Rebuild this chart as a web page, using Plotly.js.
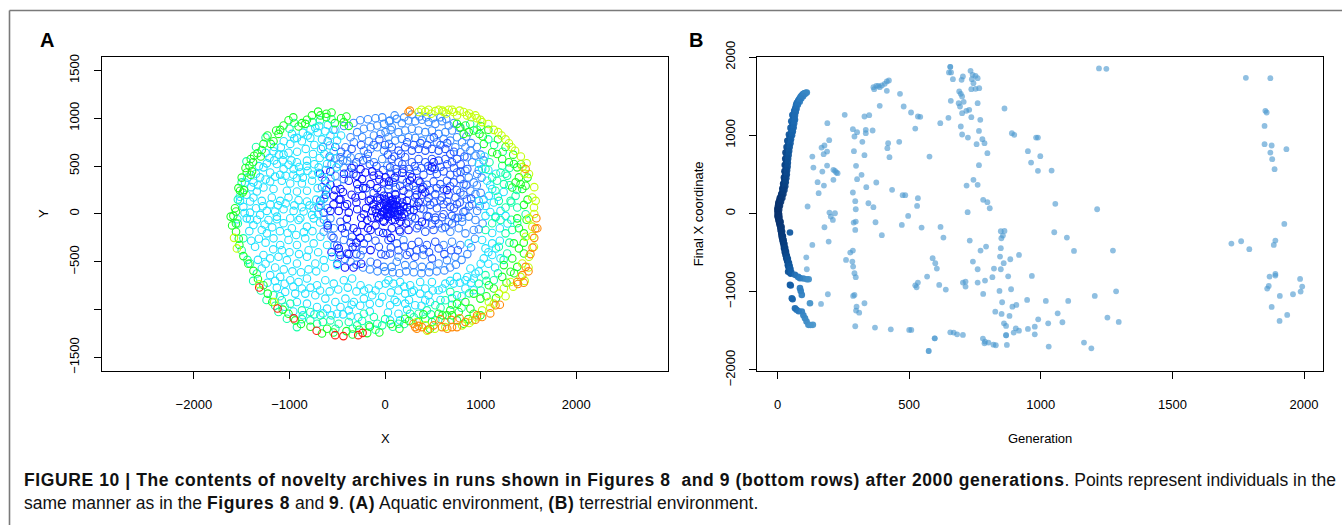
<!DOCTYPE html>
<html>
<head>
<meta charset="utf-8">
<script src="https://cdn.plot.ly/plotly-3.0.1.min.js"></script>
<style>
  html, body { margin: 0; padding: 0; background: #fff; }
  #fig { width: 1342px; height: 525px; }
</style>
</head>
<body>
<div id="fig"></div>
<script>
// ---------- Panel A: final positions (X, Y) of archived individuals, grouped by colour band ----------
const deepBlue = [
  [-572,445],[-625,347],[-572,305],[-467,260],[-380,347],[-292,312],[-240,364],[-152,312],[-82,270],[-12,329],
  [-537,190],[-467,151],[-397,102],[-310,172],[-240,190],[-170,137],[-82,172],[-12,190],[58,137],[-572,32],
  [-485,32],[-380,14],[-292,49],[-222,-3],[-135,32],[-47,67],[23,14],[-205,434],[-135,445],[-65,410],[5,382],[-257,469],
  [35,67],[87,102],[52,-3],[140,-3],[350,347],[385,260],[280,382],[227,137],[192,242],[507,540],[490,487],[420,224],
  [0,154],[350,119],[647,249],
  [-292,-186],[-240,-116],[-187,-63],[-82,-28],[-12,-81],[-152,-168],[-152,-378],[-485,-360],[-467,-430],
  [35,-28],[105,-63],[175,-28],[385,-81],[70,-150],[245,-168],
  [0,50],[30,80],[60,30],[90,60],[-30,20],[20,-20],[50,110],[100,20],[-60,80],[120,90],[10,140],[-90,10],[70,-60],
  [150,40],[-20,-70],[40,180],[130,-30],[-120,100],[180,120],[-50,160],[200,0],[80,150],[-10,100],[160,-80],[110,200],
  [230,70],[-140,-40],[60,0],[25,45],[95,95],[-681,422],[-340,-345],
  [-40,-10],[15,90],[45,60],[80,120],[-80,140],[110,-10],[140,70],[-60,-40],[170,30],[-100,50],[70,90],[30,0],
  [-10,30],[120,150],[190,80],[-150,150],[-200,60],[-250,-40],[-300,120],[-350,200],[-420,80],[-480,150],[-540,100],
  [-520,250],[-430,420],[-350,480],[-300,400],[-230,270],[-180,-150],[-260,-250],[-330,-150],[-400,-50],[-450,-150],
  [-380,-420],[-300,-300],[-100,-120],[-20,-200],[60,-250],[150,-170],[220,-100],[300,40],[330,200],[260,350],
  [180,430],[100,380],[40,340],[-60,360],[-120,400],[-440,230],[-620,200],[-600,-120],[-560,-400],[-500,-520],
  [-420,-560],[-330,-560],[-250,-520]
];
const royalBlue = [
  [70,697],[140,662],[210,697],[280,662],[350,680],[420,662],[490,680],[560,662],[630,680],[682,627],[752,575],[700,540],
  [630,575],[560,557],[490,575],[420,540],[350,575],[280,540],[210,592],[140,540],[70,575],[52,487],[122,434],[192,469],
  [262,417],[332,452],[402,410],[472,452],[542,417],[612,445],[682,410],[752,434],[787,364],[717,330],[647,347],[577,312],
  [507,340],[437,305],[367,330],[297,295],[227,330],[157,295],[87,330],[35,260],[105,207],[175,172],[245,214],[315,172],
  [385,200],[455,165],[525,207],[595,172],[665,200],[735,172],[752,102],[682,74],[612,102],[542,60],[472,95],[402,49],
  [332,84],[262,39],[192,74],[122,32],[612,-3],[525,-38],[700,-20],[437,-20],
  [-467,-81],[-397,-133],[-345,-238],[-65,-186],[23,-203],[-310,-343],[-222,-308],[-65,-343],[5,-430],[-82,-518],[-397,-413],
  [245,-81],[315,-46],[455,-28],[525,-63],[595,-35],[157,-186],[332,-150],[420,-186],[507,-168],[35,-273],[122,-308],
  [280,-325],[350,-290],[437,-325],[525,-290],[52,-413],[227,-430],[315,-448],[490,-465],
  [-695,67],[-677,137],[-642,14],
  [-580,600],[-520,700],[-460,650],[-350,680],[-300,540],[-250,720],[-180,630],[-120,720],[-60,780],[0,720],[30,620],
  [95,600],[165,630],[230,750],[300,720],[370,740],[440,720],[510,800],[580,720],[650,740],[720,650],[790,520],
  [830,600],[860,470],[790,440],[720,480],[650,520],[580,490],[520,470],[450,500],[380,480],[310,500],[250,470],
  [180,520],[110,470],[60,420],[-20,460],[-90,500],[-160,520],[-230,560],[-330,420],[-280,260],[-200,270],[-120,220],
  [-40,240],[40,300],[110,280],[180,360],[250,280],[320,250],[400,280],[470,250],[540,270],[610,260],[680,290],
  [750,250],[820,200],[780,120],[720,60],[650,130],[580,140],[510,120],[440,130],[370,60],[300,120],[230,20],
  [280,-30],[350,-120],[420,-100],[490,-110],[560,-100],[630,-140],[700,-100],[760,-40],[820,20],[880,80],[900,160],
  [850,300],[-420,-200],[-360,-300],[-300,-420],[-230,-380],[-180,-250],[-100,-280],[-40,-420],[60,-350],[140,-380],
  [200,-340],[260,-400],[330,-380],[400,-370],[460,-400],[560,-360],[620,-420],[690,-380],[760,-380],[-540,-250],[-500,-330]
];
const azure = [
  [-467,592],[-397,627],[-415,697],[-327,750],[-362,802],[-292,855],[-222,890],[-152,907],[-82,925],[-12,942],[41,970],
  [-240,802],[-170,760],[-117,820],[-47,837],[5,855],[58,879],[-485,522],[-432,480],[-380,434],[-432,364],[-502,319],
  [-397,557],[-327,504],[-275,592],[-222,662],[-152,680],[-82,697],[-12,662],[41,732],[-187,575],[-117,540],[-30,575],[23,504],
  [52,977],[122,994],[175,949],[245,977],[315,970],[385,984],[455,960],[525,942],[595,970],[665,925],[700,872],[630,855],
  [560,837],[490,872],[420,855],[350,872],[280,890],[210,872],[140,855],[70,907],[752,802],[805,750],[840,697],[892,662],
  [945,610],[910,540],[857,592],[787,645],[735,697],[682,767],[612,785],[542,750],[472,785],[385,767],[315,795],[245,802],
  [175,785],[105,767],[35,802],[962,417],[927,330],[892,242],[857,154],[910,102],[962,32],[840,32],[805,-38],[875,382],
  [840,452],[822,312],[787,224],[945,207],
  [-607,-98],[-537,-150],[-642,-186],[-572,-46],[-432,-273],[-257,-430],[-152,-500],[-12,-553],
  [665,-81],[735,-46],[805,-81],[875,-28],[945,-63],[595,-150],[682,-186],[770,-150],[840,-203],[927,-168],[192,-273],
  [612,-325],[700,-290],[787,-325],[140,-448],[402,-430],[560,-518],[647,-483],[735,-448],[210,-535],[297,-535],
  [385,-553],[472,-546],[70,-553],[122,-500],
  [-650,700],[-600,760],[-540,880],[-430,920],[-330,950],[-260,980],[-180,990],[-100,1000],[-30,1010],[100,1030],
  [200,1010],[280,1040],[360,1020],[430,1010],[500,1000],[580,1010],[640,990],[720,950],[780,900],[850,810],[900,740],
  [960,700],[1000,620],[1030,560],[980,460],[1010,380],[960,300],[1000,220],[1030,150],[990,80],[1020,-100],[980,-160],
  [940,-260],[900,-350],[860,-420],[800,-480],[740,-530],[680,-560],[620,-590],[540,-600],[460,-610],[380,-620],
  [300,-610],[220,-600],[150,-620],[80,-610],[0,-600],[-80,-600],[-160,-580],[-230,-560],[-300,-530],[-360,-500],
  [-420,-470],[-480,-400],[-530,-330],[-560,-230],[-600,-150],[-640,-60],[-600,60],[-640,160],[-620,250],[-660,280],
  [-520,400],[-560,520],[-620,460],[-520,580],[-440,560],[-360,590]
];
const cyan = [
  [-974,837],[-922,795],[-810,820],[-730,900],[-705,851],[-782,795],[-870,760],[-992,732],[-1090,697],[-1167,655],
  [-1062,620],[-1209,585],[-1237,529],[-1132,522],[-1010,515],[-922,540],[-817,557],[-754,627],[-670,680],[-579,715],
  [-502,767],[-460,820],[-572,820],[-625,865],[-635,627],[-684,585],[-810,452],[-887,434],[-957,469],[-1062,469],
  [-1097,410],[-1202,434],[-1272,487],[-1307,382],[-1202,340],[-1080,347],[-992,319],[-922,375],[-870,319],[-764,347],
  [-705,270],[-817,242],[-922,235],[-1027,242],[-1167,260],[-1272,277],[-1342,235],[-1377,172],[-1290,137],[-1185,172],
  [-1097,137],[-1010,172],[-905,144],[-817,130],[-747,60],[-852,25],[-957,32],[-1062,49],[-1150,25],[-1237,32],
  [-1307,-10],[-1412,14],[-1482,74],[-1517,137],[-1412,130],[-1377,329],[-1465,329],[-660,382],[-695,487],[-607,522],
  [-572,585],[-537,655],[-509,487],[-572,375],[-607,270],[-635,172],[-677,95],[-764,-10],[-887,-45],[-992,-45],
  [-1132,-55],[-1412,-55],[-1545,-55],
  [980,522],[1015,470],[1067,347],[1120,260],[1085,189],[1137,119],[1050,84],[980,137],[1207,32],[1155,-38],[1050,-20],
  [-1447,-46],[-1377,-116],[-1290,-168],[-1220,-63],[-1132,-28],[-1062,-98],[-975,-150],[-905,-63],[-817,-133],[-747,-46],
  [-1237,-203],[-1167,-255],[-1097,-325],[-1010,-273],[-922,-325],[-835,-255],[-747,-308],[-677,-238],[-607,-325],
  [-1360,-343],[-1272,-430],[-1202,-465],[-1115,-448],[-1027,-483],[-922,-518],[-817,-448],[-730,-518],[-642,-483],
  [-555,-448],[-502,-535],[-1290,-570],[-1202,-640],[-1097,-658],[-992,-693],[-905,-711],[-817,-675],[-712,-745],
  [-625,-693],[-537,-728],[-432,-693],[-345,-675],[-257,-745],[-170,-780],[-65,-745],[5,-728],[-1132,-770],[-1045,-815],
  [-940,-833],[-835,-833],[-730,-850],[-625,-885],[-520,-920],[-415,-885],[-327,-920],[-222,-885],[-135,-850],[-30,-868],
  [-467,-973],[-380,-1008],[-922,-920],[-817,-938],[-712,-973],[-607,-990],[-502,-1043],
  [35,-693],[87,-728],[157,-711],[262,-745],[367,-711],[490,-711],[630,-728],[717,-728],[752,-658],[840,-693],[927,-675],
  [1032,-465],[1120,-430],[1207,-465],[1015,-273],[1120,-308],[1050,-360],[892,-570],[945,-623],[840,-780],[927,-798],
  [210,-833],[280,-815],[367,-833],[455,-850],[560,-798],[122,-920],[210,-938],[315,-955],[420,-903],[52,-955],
  [140,-1043],[52,-1113],[157,-1113],[875,-308],
  [-1450,200],[-1400,280],[-1330,300],[-1250,360],[-1150,390],[-1040,400],[-960,410],[-860,380],[-760,410],[-700,430],
  [-740,520],[-820,500],[-900,490],[-980,560],[-1070,560],[-1160,560],[-1250,640],[-1160,700],[-1060,760],[-950,790],
  [-860,850],[-780,880],[-690,920],[-600,930],[-520,880],[-660,780],[-740,720],[-830,680],[-920,650],[-1010,640],
  [-1110,620],[-1320,500],[-1350,420],[-1440,380],[-1520,180],[-1470,10],[-1350,60],[-1280,80],[-1200,100],[-1120,90],
  [-1040,110],[-950,90],[-870,70],[-790,90],[-720,150],[-700,0],[-680,-90],[-760,-180],[-850,-190],[-930,-220],
  [-1020,-200],[-1100,-180],[-1180,-140],[-1260,-110],[-1340,-60],[-1420,-180],[-1400,-280],[-1320,-260],[-1250,-300],
  [-1170,-370],[-1080,-380],[-1000,-400],[-900,-420],[-800,-380],[-700,-400],[-630,-560],[-720,-600],[-800,-580],
  [-880,-610],[-970,-600],[-1060,-580],[-1150,-560],[-1250,-520],[-1330,-480],[-1230,-720],[-1150,-700],[-1050,-730],
  [-960,-760],[-870,-780],[-780,-770],[-680,-800],[-580,-810],[-490,-790],[-390,-770],[-300,-810],[-220,-800],[-100,-800],
  [-60,-930],[-160,-940],[-260,-960],[-350,-950],[-440,-1050],[-560,-1060],[-650,-1040],[-740,-1050],[-860,-1060],
  [-960,-1020],[-1050,-970],[-1100,-860],[-280,-1080],[-360,-1070],[-160,-1020],[60,-820],[140,-800],[200,-760],
  [300,-800],[420,-780],[500,-800],[600,-780],[680,-700],[780,-720],[860,-660],[900,-720],[980,-600],[1000,-520],
  [1080,-520],[1150,-560],[1080,-400],[1160,-360],[1200,-280],[1120,-200],[1200,-150],[1260,-20],[1280,-100],[1100,20],
  [1180,180],[1240,230],[1100,300],[1160,420],[1080,460],[1040,600],[100,-900],[250,-900],[380,-960],[470,-920],
  [580,-900],[700,-880],[800,-860],[30,-1030],[230,-1000]
];
const springGreen = [
  [1120,382],[1207,434],[1277,400],[1242,312],[1172,347],[1225,504],[1092,540],[1050,470],[1365,189],[1312,137],
  [1382,67],[1470,-3],[1260,67],[1190,137],[1155,242],
  [-1482,-255],[-1412,-518],[-1342,-623],[-1167,-850],[-1080,-903],[-992,-938],[-870,-1008],[-782,-1025],[-677,-1060],
  [-572,-1113],[-485,-1148],[-380,-1130],[-292,-1165],[-170,-1165],[-82,-1148],[-30,-1165],[-117,-1078],[-222,-1043],
  [-782,-1113],[-712,-1148],[-922,-1183],[-1027,-1095],[-1115,-1025],
  [1155,-28],[1120,-98],[1207,-63],[1050,-168],[1260,-203],[1330,-168],[1382,-98],[1190,-343],[1277,-413],[1050,-640],
  [1137,-693],[980,-728],[682,-815],[752,-850],[630,-903],[525,-955],[437,-1008],[350,-1043],[262,-1043],[420,-1095],
  [525,-1113],[630,-1130],[140,-1148],
  [-1540,-100],[-1500,-380],[-1440,-480],[-1380,-700],[-1300,-800],[-1240,-900],[-1150,-960],[-870,-1100],[-650,-1130],
  [-520,-1200],[-340,-1200],[-240,-1120],[-100,-1210],[0,-1100],[80,-1180],[200,-1150],[300,-1080],[480,-1050],
  [580,-980],[700,-950],[800,-980],[880,-830],[1000,-800],[1060,-700],[1180,-620],[1240,-480],[1300,-300],[1320,-60],
  [1320,120],[1300,300],[1260,420],[1300,480],[1230,650],[1140,720],[1080,780],[960,880],[890,940],[1380,250],
  [-1450,550],[-1350,700],[-1250,800],[-1000,890],[-950,950],[-760,960],[-680,980],[-560,990],[-1500,330],[-1540,150]
];
const green = [
  [-765,1030],[-677,1030],[-614,1047],[-617,1012],[-404,1019],[-432,960],[-380,921],[-526,949],[-870,949],[-905,914],
  [-835,942],[-817,984],[-1062,925],[-1097,879],[-1139,872],[-1115,837],[-1167,760],[-1195,732],[-1272,732],[-1290,669],
  [-1335,634],[-1370,609],[-1405,574],[-1419,504],[-1447,434],[-1405,410],[-1391,445],[-1534,270],[-1517,242],[-1489,224],
  [-1475,249],[-1570,60],[-1559,25],[-1587,-20],
  [752,942],[787,907],[840,925],[822,837],[875,855],[927,872],[987,837],[1022,809],[1032,732],[1120,645],[1172,627],
  [1225,575],[1295,540],[1347,522],[1382,487],[1400,382],[1365,330],[1417,312],[1435,260],[1470,295],[1330,277],[1452,95],
  [-1559,-186],[-1524,-325],[-1482,-441],[-1377,-595],[-1272,-745],[-1227,-833],[-1010,-1043],[-940,-1113],[-607,-1200],
  [-404,-1225],[-271,-1211],[-187,-1246],[-1615,-28],
  [1382,-46],[1400,-150],[1452,-203],[1347,-308],[1400,-360],[1452,-413],[1330,-465],[1242,-535],[1312,-605],[1382,-553],
  [1225,-658],[1085,-745],[1137,-780],[927,-833],[997,-885],[752,-938],[840,-920],[892,-990],[682,-1008],[770,-1025],
  [927,-1043],[560,-1043],[647,-1060],[490,-1130],[752,-1113],[822,-1148],[350,-1130],[997,-1060],[210,-1095],
  [-1560,-100],[-1530,-260],[-1600,-120],[-1430,-520],[-1330,-680],[-1180,-920],[-1070,-1000],[-880,-1150],[-780,-1180],
  [-660,-1250],[-540,-1240],[-340,-1260],[-160,-1180],[-60,-1240],[60,-1150],[150,-1200],[250,-1120],[400,-1050],
  [470,-1200],[600,-1060],[700,-1060],[870,-1100],[1060,-860],[1160,-880],[1270,-720],[1350,-620],[1450,-300],
  [1480,-60],[1490,150],[1490,380],[1420,520],[1340,620],[1260,700],[1180,780],[1080,880],[1000,920],[-1500,380],
  [-1460,480],[-1380,540],[-1300,600],[-1230,820],[-1010,980],[-960,1010],[-700,1070],[-560,1060],[-460,1000]
];
const yellowGreen = [
  [350,1065],[455,1089],[483,1047],[525,1075],[560,1089],[612,1065],[665,1089],[717,1065],[752,1030],[822,1065],
  [857,1030],[903,1012],[945,1030],[997,984],[1015,960],[1137,879],[1183,855],[1218,820],[1295,739],[1323,697],
  [1505,417],[1540,172],[1575,137],[1557,67],[1437,491],[1458,421],
  [-1160,-920],[-1314,-735],
  [1505,-46],[1540,-133],[1470,-238],[1557,-343],[1505,-448],[1435,-518],[1417,-658],[1312,-711],[1242,-780],[1190,-833],
  [1085,-920],[1137,-938],[1015,-1008],[332,-1130],[420,-1165],[630,-1183],[910,-1113],[805,-1165],
  [380,1090],[420,1070],[600,1080],[640,1050],[700,1090],[780,1080],[880,1050],[960,1000],[1080,940],[1260,780],
  [1360,660],[1420,600],[1480,530],[1560,280],[1560,0],[1540,-230],[1500,-560],[1460,-700],[1340,-760],[1260,-860],
  [1100,-980],[960,-1080],[880,-1140],[520,-1200],[440,-1220],[-1580,-250],[-1550,-360]
];
const orange = [
  [245,1065],[1470,470],[1582,-45],[1572,-153],[1542,-352],[1592,-150],[1470,-553],[1435,-640],[1382,-711],[1390,-732],
  [1155,-955],[945,-1106],[840,-1130],[752,-1183],[700,-1183],[595,-1183],[507,-1165],[385,-1183],[315,-1183],[297,-1148],
  [332,-1200],[962,-1060],[1015,-1078],[780,-1090],[692,-1107],[579,-1100],
  [260,1080],[1500,-600],[1520,-420],[1450,-720],[1200,-950],[1100,-1040],[650,-1200],[450,-1210],[350,-1170],[1560,-250]
];
const red = [
  [-1316,-769],[-1125,-988],[-956,-1092],[-716,-1221],[-522,-1267],[-436,-1277],[-281,-1267],[-235,-1243]
];

// ---------- Panel B: generation vs final X coordinate ----------
// the first run, which sweeps outwards from the start during the early generations
const earlyRun = [
  [111,1547],[104,1542],[98,1531],[92,1510],[85,1476],[80,1450],[73,1412],[70,1380],[66,1326],[64,1290],[60,1240],
  [62,1200],[58,1156],[57,1110],[54,1070],[52,1030],[47,985],[45,945],[41,900],[40,860],[37,815],[36,770],[35,729],
  [34,690],[32,644],[33,600],[31,559],[30,515],[28,473],[27,430],[25,389],[23,345],[20,303],[17,260],[12,217],[9,175],
  [3,133],[2,90],[0,47],[1,10],
  [95,1520],[78,1440],[68,1350],[56,1260],[52,1180],[49,1095],[43,1010],[37,930],[34,850],[30,780],[29,700],[27,620],
  [26,540],[24,460],[21,380],[18,320],[14,250],[8,195],[5,150],[2,105],[0,60],
  [108,1545],[101,1535],[88,1495],[83,1465],[76,1425],[71,1395],[67,1340],[63,1310],[61,1270],[59,1215],[60,1180],
  [56,1130],[55,1090],[53,1050],[50,1010],[46,965],[43,925],[42,880],[39,840],[38,795],[35,750],[34,710],[33,665],
  [31,620],[32,580],[30,535],[29,495],[27,450],[26,410],[24,365],[22,325],[19,280],[15,240],[11,200],[7,160],[4,120],
  [1,75],[0,25],
  [104,1530],[97,1500],[90,1470],[84,1430],[77,1390],[72,1340],[69,1300],[66,1250],[66,1200],[63,1150],[61,1100],
  [58,1050],[55,1000],[51,950],[49,900],[46,850],[44,800],[42,750],[40,700],[39,650],[38,600],[36,550],[35,500],
  [33,450],[31,400],[29,350],[26,300],[22,250],[18,200],[13,150],[9,100],[6,50],[5,0],
  [0,-38],[3,-80],[7,-123],[10,-165],[12,-208],[14,-250],[16,-294],[19,-335],[22,-379],[25,-420],[28,-464],[31,-505],
  [35,-550],[38,-590],[41,-634],[43,-675],[45,-720],[48,-760],
  [4,-60],[9,-140],[13,-230],[17,-310],[20,-360],[24,-440],[27,-490],[30,-530],[33,-570],[37,-610],[39,-660],[44,-700],
  [40,-745],[47,-243],
  [0,-15],[2,-50],[5,-100],[8,-145],[11,-185],[13,-220],[15,-270],[18,-315],[21,-355],[23,-400],[26,-445],[29,-480],
  [32,-520],[34,-560],[36,-600],[40,-645],[42,-690],[46,-730],[50,-770],[14,-190],[18,-280],[10,-100],[6,-20],
  [7,-50],[11,-110],[15,-170],[17,-230],[20,-290],[23,-340],[26,-390],[29,-440],[32,-490],[35,-540],[39,-580],
  [43,-630],[46,-670],[49,-710],[52,-750],
  [66,-784],[78,-810],[85,-826],[98,-830],[111,-839],[118,-840],[47,-912],[50,-920],[85,-954],[88,-990],[92,-1040],
  [54,-1082],[57,-1095],[123,-1146],[66,-1210],[72,-1230],[80,-1250],[92,-1253],[98,-1300],[104,-1338],[110,-1380],
  [117,-1423],[125,-1425],[134,-1423]
];
// all later archive entries
const laterRuns = [
  [132,729],[136,588],[114,90],[132,-401],[109,-559],[111,-712],
  [167,844],[178,870],[189,1156],[196,938],[188,793],[175,759],[170,537],[188,614],[152,401],[156,260],[176,358],
  [212,559],[218,546],[228,516],[212,431],[223,525],[197,13],[202,-38],[210,-81],[218,4],[178,-175],[194,-358],
  [165,-1155],[191,-1032],[255,1262],
  [286,1079],[302,1040],[292,985],[322,917],[330,1241],[348,1258],[335,1070],[335,1028],[361,1062],[290,797],[330,746],
  [388,1377],[298,610],[319,495],[302,439],[286,269],[337,337],[375,397],[295,158],[297,55],[364,81],[345,132],
  [289,-115],[297,-102],[295,-209],[372,-111],[396,-277],[260,-593],[276,-499],[286,-473],[284,-614],[287,-678],
  [292,-763],[297,-814],[287,-1053],[292,-1040],[300,-1190],[298,-1241],[310,-1267],[330,-1147],[295,-1441],
  [370,-1458],[430,-1480],[417,836],[420,900],[425,721],[415,1569],
  [367,1590],[375,1633],[383,1633],[396,1637],[407,1659],[415,1689],[423,1701],[388,1616],[364,1616],
  [465,1531],[479,1369],[507,1292],[533,1241],[542,1237],[523,1087],[462,917],[577,729],[435,303],[475,235],[485,235],
  [533,196],[530,98],[496,-30],[472,-145],[547,-179],[589,-571],[599,-635],[605,-703],[568,-806],[533,-883],[523,-917],
  [528,-942],[614,-913],[639,-972],[508,-1488],[500,-1488],[574,-1757],[574,-1757],[597,-1595],[597,-1595],[618,1156],
  [649,1224],[630,-307],[619,-171],
  [656,1876],[656,1876],[659,1804],[651,1804],[666,1718],[704,1753],[699,1710],[733,1825],[741,1774],[752,1761],
  [760,1731],[738,1718],[744,1667],[736,1590],[752,1595],[766,1603],[690,1561],[696,1531],[701,1497],[688,1411],
  [693,1369],[707,1428],[717,1313],[728,1326],[736,1232],[701,1283],[658,1441],[760,1411],[770,1198],[765,1057],
  [778,951],[756,887],[786,900],[696,1113],[701,1011],[723,972],[797,772],[765,618],[744,431],[760,367],[718,358],
  [722,17],[781,175],[797,145],[806,68],[730,-345],[771,-473],[792,-422],[742,-614],[760,-712],[714,-934],[704,-883],
  [760,-883],[714,-870],[788,-857],[781,-1028],[848,-712],[822,-703],[848,-443],[848,-226],[862,-222],[850,-316],
  [856,-281],[845,-550],[884,-584],[859,-635],[876,-802],[816,-814],[843,-989],[853,-1134],[827,-1254],[851,-1283],
  [881,-1309],[887,-968],[892,-1190],[907,-1168],[860,-1403],[868,-1437],[868,-1556],[868,-1556],[871,-1680],
  [656,-1518],[669,-1522],[682,-1544],[704,-1552],[780,-1599],[788,-1637],[801,-1650],[820,-1676],[829,-1684],[786,-1659],
  [862,1343],[890,1028],[899,1006],[982,972],[989,972],[951,797],[998,733],[963,652],[989,546],[1041,550],[1055,124],
  [1051,-239],[1099,-307],[1126,-478],[917,-529],[966,-797],[948,-1104],[1019,-1117],[1104,-1117],[1064,-1275],
  [1082,-1390],[990,-1352],[1028,-1403],[977,-1446],[951,-1475],[905,-1467],[917,-1497],[897,-1522],[977,-1544],
  [1030,-1701],[1164,-1650],[1192,-1723],[1214,55],[1221,1855],[1249,1851],[1205,-1053],[1253,-1330],[1274,-473],
  [1286,-994],[1296,-1386],
  [1724,-384],[1761,-354],[1792,-456],[1779,1735],[1872,1731],[1853,1313],[1858,1292],[1850,1121],[1850,887],
  [1877,870],[1872,780],[1879,695],[1888,567],[1933,823],[1925,-132],[1891,-345],[1885,-401],[1869,-806],[1891,-772],
  [1891,-793],[1866,-925],[1860,-959],[1908,-1053],[1877,-1194],[1936,-1296],[1907,-1373],[1958,-1032],[1985,-836],
  [1993,-934],[1987,-998]
];

// ---------- traces ----------
const W = 1342, H = 525;
const px = v => v / W;          // horizontal pixel -> paper fraction
const py = v => 1 - v / H;      // vertical pixel -> paper fraction

function ringTrace(points, colour) {
  return {
    type: 'scatter', mode: 'markers', xaxis: 'x', yaxis: 'y',
    x: points.map(p => p[0]), y: points.map(p => p[1]),
    marker: { symbol: 'circle-open', size: 7.5, color: colour, line: { width: 1.1, color: colour } },
    hoverinfo: 'x+y'
  };
}

const traces = [
  ringTrace(azure, '#3a8dff'),
  ringTrace(royalBlue, '#2458ff'),
  ringTrace(deepBlue, '#0a12ff'),
  ringTrace(cyan, '#1fe2ff'),
  ringTrace(springGreen, '#12ffa8'),
  ringTrace(green, '#1cff26'),
  ringTrace(yellowGreen, '#c4ff0a'),
  ringTrace(orange, '#ff8a0a'),
  ringTrace(red, '#ff1c10'),
  {
    type: 'scatter', mode: 'markers', xaxis: 'x2', yaxis: 'y2',
    x: laterRuns.map(p => p[0]), y: laterRuns.map(p => p[1]),
    marker: { symbol: 'circle', size: 5.8, color: '#4a97cf', opacity: 0.62, line: { width: 0 } }
  },
  {
    type: 'scatter', mode: 'markers', xaxis: 'x2', yaxis: 'y2',
    x: earlyRun.map(p => p[0]), y: earlyRun.map(p => p[1]),
    marker: {
      symbol: 'circle', size: 6.6, opacity: 0.95, line: { width: 0 },
      color: earlyRun.map(p => p[0]), cmin: 0, cmax: 130,
      colorscale: [[0, '#08306b'], [0.2, '#083d7e'], [0.4, '#1460a8'], [0.65, '#2b7bbf'], [1, '#4a96cb']],
      showscale: false
    }
  }
];

const axisFont = { family: 'Liberation Sans, Arial, Helvetica, sans-serif', size: 13, color: '#000' };
const baseAxis = {
  showgrid: false, zeroline: false, showline: true, mirror: true,
  linecolor: '#000', linewidth: 1, ticks: 'outside', ticklen: 7, tickwidth: 1, tickcolor: '#000',
  tickfont: axisFont, fixedrange: true
};

function label(text, x, y, extra) {
  return Object.assign({
    text: text, x: px(x), y: py(y), xref: 'paper', yref: 'paper',
    xanchor: 'center', yanchor: 'middle', showarrow: false, font: axisFont
  }, extra || {});
}

const captionFont = { family: 'Liberation Sans, Arial, sans-serif', size: 17.5, color: '#111' };
const B = s => '<span style="letter-spacing:0.6px"><b>' + s + '</b></span>';

const layout = {
  width: W, height: H,
  margin: { l: 0, r: 0, t: 0, b: 0 },
  paper_bgcolor: '#fff', plot_bgcolor: '#fff',
  showlegend: false,
  font: axisFont,
  xaxis: Object.assign({}, baseAxis, {
    domain: [px(101.5), px(668.3)], range: [-2966, 2962], anchor: 'y',
    tickvals: [-2000, -1000, 0, 1000, 2000], ticklabelstandoff: 14
  }),
  yaxis: Object.assign({}, baseAxis, {
    domain: [py(371), py(56.5)], range: [-1642, 1646], anchor: 'x',
    tickvals: [-1500, -1000, -500, 0, 500, 1000, 1500],
    ticktext: ['\u22121500', '', '\u2212500', '0', '500', '1000', '1500'],
    tickangle: -90, ticklabelstandoff: 9
  }),
  xaxis2: Object.assign({}, baseAxis, {
    domain: [px(756.8), px(1323)], range: [-79, 2072], anchor: 'y2',
    tickvals: [0, 500, 1000, 1500, 2000], ticklabelstandoff: 14
  }),
  yaxis2: Object.assign({}, baseAxis, {
    domain: [py(371), py(56.5)], range: [-2013, 2008], anchor: 'x2',
    tickvals: [-2000, -1000, 0, 1000, 2000], tickangle: -90, ticklabelstandoff: 9
  }),
  shapes: [
    { type: 'line', xref: 'paper', yref: 'paper', x0: px(9.5), x1: 1, y0: py(10.5), y1: py(10.5),
      line: { color: '#7a7a7a', width: 1.6 } },
    { type: 'line', xref: 'paper', yref: 'paper', x0: px(9.5), x1: px(9.5), y0: py(10.5), y1: 0,
      line: { color: '#7a7a7a', width: 1.6 } }
  ],
  annotations: [
    label('<b>A</b>', 46.5, 40, { font: { family: 'Liberation Sans, Arial, sans-serif', size: 20, color: '#000' } }),
    label('<b>B</b>', 695.6, 40, { font: { family: 'Liberation Sans, Arial, sans-serif', size: 20, color: '#000' } }),
    label('X', 385, 438),
    label('Y', 43.4, 213.7, { textangle: -90 }),
    label('Generation', 1040, 438),
    label('Final X coordinate', 698.6, 213.7, { textangle: -90 }),
    label(B('FIGURE 10 | The contents of novelty archives in runs shown in Figures 8  and 9 (bottom rows) after 2000 generations') +
          '. Points represent individuals in the', 22, 480, { xanchor: 'left', font: captionFont }),
    label('same manner as in the ' + B('Figures 8') + ' and ' + B('9') + '. ' + B('(A)') + ' Aquatic environment, ' +
          B('(B)') + ' terrestrial environment.', 22, 503, { xanchor: 'left', font: captionFont })
  ]
};

Plotly.newPlot('fig', traces, layout, { displayModeBar: false, staticPlot: true });
</script>
</body>
</html>
